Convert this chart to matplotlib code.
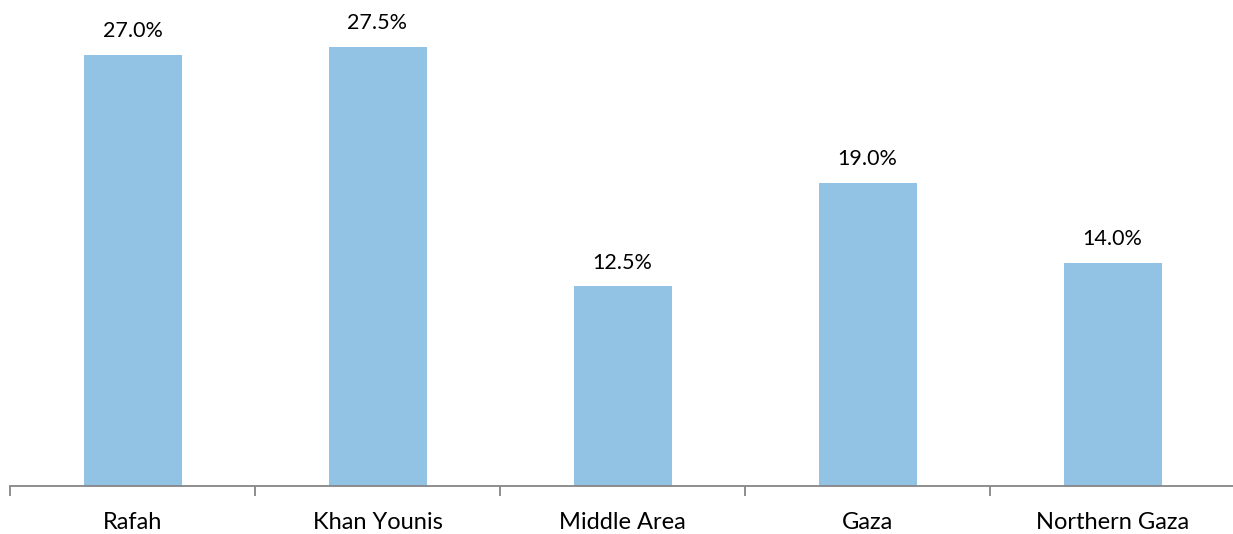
import matplotlib
matplotlib.use("Agg")
import matplotlib.pyplot as plt
import numpy as np

categories = ["Rafah", "Khan Younis", "Middle Area", "Gaza", "Northern Gaza"]
values = [27.0, 27.5, 12.5, 19.0, 14.0]
labels = ["27.0%", "27.5%", "12.5%", "19.0%", "14.0%"]

plt.rcParams['font.family'] = ['Lato', 'DejaVu Sans']

W, H = 1233, 534
fig = plt.figure(figsize=(W / 100, H / 100), dpi=100)
base_y = 486
top_y = 8
left_px = 10
ax = fig.add_axes([left_px / W, (H - base_y) / H, 1225 / W, (base_y - top_y) / H])

x = np.arange(len(categories))
bars = ax.bar(x, values, width=0.4, color="#93C3E4")
ppu = (base_y - 55) / 27.0
ax.set_ylim(0, (base_y - top_y) / ppu)
ax.set_xlim(-0.5, 4.5)

for xi, v, lab in zip(x, values, labels):
    ax.annotate(lab, (xi, v), xytext=(0, 10), textcoords="offset points",
                ha="center", va="bottom", fontsize=15.5, color="#000000")

for s in ["top", "right", "left"]:
    ax.spines[s].set_visible(False)
ax.spines["bottom"].set_color("#868686")
ax.spines["bottom"].set_linewidth(1.3)
ax.set_yticks([])
ax.set_xticks(x)
ax.set_xticklabels(categories, fontsize=17)
ax.tick_params(axis="x", which="major", length=0, pad=19)
ax.set_xticks(np.arange(-0.5, 4.0, 1.0), minor=True)
ax.tick_params(axis="x", which="minor", length=7, width=1.3, color="#868686", direction="out")

fig.savefig("out.png", dpi=100)
